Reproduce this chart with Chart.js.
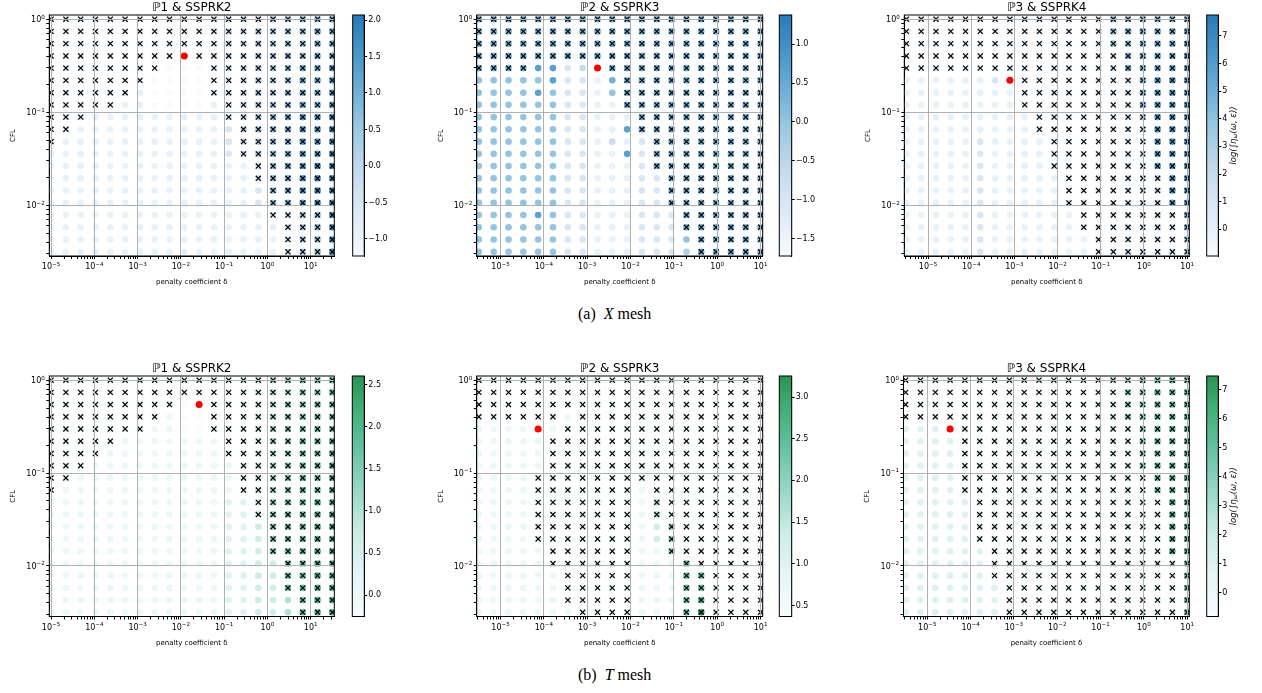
<!DOCTYPE html>
<html>
<head>
<meta charset="utf-8">
<script src="https://cdn.jsdelivr.net/npm/chart.js@4.4.0/dist/chart.umd.min.js"></script>
<style>
    body { margin: 0; background: #fff; width: 1262px; height: 693px; position: relative; overflow: hidden; }
    canvas { position: absolute; }
    .caption { position: absolute; font-family: "Liberation Serif", "Times New Roman", serif; font-size: 16px; color: #000; white-space: pre; }
</style>
</head>
<body>
<div class="caption" style="left:578px; top:305px;">(a)  <i>X</i> mesh</div>
<div class="caption" style="left:578px; top:666px;">(b)  <i>T</i> mesh</div>
<script>
// grid of the sweep: penalty coefficient δ (columns) and CFL (rows, top to bottom)
const deltaP1 = [1.00e-5, 2.20e-5, 4.83e-5, 1.06e-4, 2.34e-4, 5.14e-4, 1.13e-3, 2.48e-3, 5.46e-3, 1.20e-2,
                 2.64e-2, 5.80e-2, 0.127, 0.280, 0.616, 1.35, 2.98, 6.55, 14.4, 31.6];
const deltaP23 = [3.16e-6, 6.95e-6, 1.53e-5, 3.36e-5, 7.38e-5, 1.62e-4, 3.57e-4, 7.85e-4, 1.73e-3, 3.79e-3,
                  8.34e-3, 1.83e-2, 4.03e-2, 8.86e-2, 0.195, 0.428, 0.941, 2.07, 4.55, 10.0];
const cflValues = [1.0, 0.739, 0.546, 0.403, 0.298, 0.220, 0.162, 0.120, 0.0886, 0.0655,
                   0.0483, 0.0357, 0.0264, 0.0195, 0.0144, 0.0106, 0.00785, 0.00580, 0.00428, 0.00316];

// colour level of each point (0 = bottom of bar, 9 = top)
// and unstable runs ("x"), one string per CFL row
const levelsXP1 = [
    "11111111111223344556", "11111111111233445566", "11111111111233445566", "11111111111233445566",
    "11111110000123445667", "11111110000123445667", "11111110000123445667", "11111110000123445667",
    "11111111111123456778", "11111111111123456778", "11111111111123456778", "11111111111123456778",
    "11111111111111256788", "11111111111111256788", "11111111111111256788", "11111111111111256788",
    "11111111111111112458", "11111111111111112458", "11111111111111112458", "11111111111111112458"];
const crossXP1 = [
    "xxxxxxxxxxxxxxxxxxxx", "xxxxxxxxxxxxxxxxxxxx", "xxxxxxxxxxxxxxxxxxxx", "xxxxxxxxx.xxxxxxxxxx",
    "xxxxxxxx...xxxxxxxxx", "xxxxxxx....xxxxxxxxx", "xxxxxx.....xxxxxxxxx", "xxxxx.......xxxxxxxx",
    "xxx.........xxxxxxxx", "xx...........xxxxxxx", "x............xxxxxxx", ".............xxxxxxx",
    "..............xxxxxx", "..............xxxxxx", "...............xxxxx", "...............xxxxx",
    "...............xxxxx", "................xxxx", "................xxxx", "................xxxx"];

const levelsXP2 = [
    "66666666666666666666", "66666666666666666666", "66666666666666666666", "66666666666666666666",
    "66667723166666666666", "55555722166666666666", "55557522156666666666", "55555522116666666666",
    "55555522111666666666", "55555522117666666666", "55555522131266666666", "55555522117266666666",
    "55555522111266666666", "55555522111226666666", "55555522111226666666", "55555522111226666666",
    "55557522111222666666", "55555522111222666666", "55555522111222566666", "55555522111222466666"];
const crossXP2 = [
    "xxxxxxxxxxxxxxxxxxxx", "xxxxxxxxxxxxxxxxxxxx", "xxxxxxxxxxxxxxxxxxxx", "xxxxxxxxxxxxxxxxxxxx",
    "xxxx.....xxxxxxxxxxx", "..........xxxxxxxxxx", "..........xxxxxxxxxx", "..........xxxxxxxxxx",
    "...........xxxxxxxxx", "...........xxxxxxxxx", "............xxxxxxxx", "............xxxxxxxx",
    "............xxxxxxxx", ".............xxxxxxx", ".............xxxxxxx", ".............xxxxxxx",
    "..............xxxxxx", "..............xxxxxx", "...............xxxxx", "...............xxxxx"];

const levelsXP3 = [
    "11111111111111545556", "11111111111111566667", "11111111111111556667", "11111111111111256667",
    "11111111111111266667", "11111121111111126777", "11111111111111126777", "11111111111111126777",
    "11111111111111124777", "11111111111111122777", "11111211111111122777", "11111211111111122777",
    "11111211111111122777", "11111211111111122377", "11111211111111122377", "11111211111111122377",
    "11111211111111122326", "11111211111111122326", "11111211111111122224", "11111211111111122224"];
const crossXP3 = [
    "xxxxxxxxxxxxxxxxxxxx", "xxxxxxxxxxxxxxxxxxxx", "xxxxxxxxxxxxxxxxxxxx", "xxxxxxxxxxxxxxxxxxxx",
    "xxxxxxxxxxxxxxxxxxxx", "........xxxxxxxxxxxx", "........xxxxxxxxxxxx", "........xxxxxxxxxxxx",
    ".........xxxxxxxxxxx", ".........xxxxxxxxxxx", "..........xxxxxxxxxx", "..........xxxxxxxxxx",
    "..........xxxxxxxxxx", "...........xxxxxxxxx", "...........xxxxxxxxx", "...........xxxxxxxxx",
    "............xxxxxxxx", "............xxxxxxxx", ".............xxxxxxx", ".............xxxxxxx"];

const levelsTP1 = [
    "11111111111112344556", "11111111111112344556", "11111111100112345566", "11111111100112345566",
    "11111111100112345566", "11111111111112345667", "11111111111112345667", "11111111111112345667",
    "11111111111112345667", "11111111111112345667", "11111111111122356677", "11111111111122356677",
    "11111111111122356677", "11111111111122356677", "11111111111122356677", "11111111111122336677",
    "11111111111122336677", "11111111111122336677", "11111111111122334677", "11111111111122334677"];
const crossTP1 = [
    "xxxxxxxxxxxxxxxxxxxx", "xxxxxxxxxxxxxxxxxxxx", "xxxxxxxxx..xxxxxxxxx", "xxxxxxxx...xxxxxxxxx",
    "xxxxxxx....xxxxxxxxx", "xxxxx.......xxxxxxxx", "xxxx........xxxxxxxx", "xxx..........xxxxxxx",
    "xx...........xxxxxxx", "x............xxxxxxx", "..............xxxxxx", "..............xxxxxx",
    "...............xxxxx", "...............xxxxx", "...............xxxxx", "................xxxx",
    "................xxxx", "................xxxx", ".................xxx", ".................xxx"];

const levelsTP2 = [
    "11111111111111111111", "11111111111111111111", "11111111111111111111", "11111111111111111111",
    "11111111111111111111", "11111111111111111111", "11111111111111111111", "11111111111111111111",
    "11111111111111111111", "11111111111111111111", "11111111111141111111", "11111111111141111111",
    "11111111111135111111", "11111111111135111111", "11111111111115111111", "11111111111111611111",
    "11111111111111661111", "11111111111111661111", "11111111111111671111", "11111111111111691111"];
const crossTP2 = [
    "xxxxxxxxxxxxxxxxxxxx", "xxxxxxxxxxxxxxxxxxxx", "xxxxxxxxxxxxxxxxxxxx", "xxxxxx.xxxxxxxxxxxxx",
    "......xxxxxxxxxxxxxx", ".....xxxxxxxxxxxxxxx", ".....xxxxxxxxxxxxxxx", ".....xxxxxxxxxxxxxxx",
    "....xxxxxxxxxxxxxxxx", "....xxxxxxx.xxxxxxxx", "....xxxxxxx.xxxxxxxx", "....xxxxxxx.xxxxxxxx",
    "....xxxxxxx..xxxxxxx", "....xxxxxxx..xxxxxxx", ".....xxxxxx..xxxxxxx", ".....xxxxxx...xxxxxx",
    "......xxxxx...xxxxxx", "......xxxxx...xxxxxx", "......xxxxx...xxxxxx", ".......xxxx...xxxxxx"];

const levelsTP3 = [
    "11111111111111335566", "11111111111111255667", "11111111111111255667", "11111111111111255667",
    "22222221111111225667", "22222221111111225667", "22222221111111225667", "22222221111111225667",
    "22222221111111122667", "22222221111111122667", "22222221111111122277", "22222221111111122277",
    "22222221111111122277", "22222221111111122277", "22222221111111122277", "22222221111111122226",
    "22222221111111122226", "22222221111111122226", "22222221111111122226", "22222221111111122226"];
const crossTP3 = [
    "xxxxxxxxxxxxxxxxxxxx", "xxxxxxxxxxxxxxxxxxxx", "xxxxxxxxxxxxxxxxxxxx", "xxxxxxxxxxxxxxxxxxxx",
    "....xxxxxxxxxxxxxxxx", "....xxxxxxxxxxxxxxxx", "....xxxxxxxxxxxxxxxx", "....xxxxxxxxxxxxxxxx",
    "....xxxxxxxxxxxxxxxx", "....xxxxxxxxxxxxxxxx", ".....xxxxxxxxxxxxxxx", ".....xxxxxxxxxxxxxxx",
    ".....xxxxxxxxxxxxxxx", ".....xxxxxxxxxxxxxxx", "......xxxxxxxxxxxxxx", "......xxxxxxxxxxxxxx",
    "......xxxxxxxxxxxxxx", ".......xxxxxxxxxxxxx", ".......xxxxxxxxxxxxx", ".......xxxxxxxxxxxxx"];

// chosen (δ, CFL) pair, red dot
const bestXP1 = [1.20e-2, 0.403];
const bestXP2 = [1.73e-3, 0.298];
const bestXP3 = [7.85e-4, 0.220];
const bestTP1 = [2.64e-2, 0.546];
const bestTP2 = [7.38e-5, 0.298];
const bestTP3 = [3.36e-5, 0.298];

// colorbar ranges and ticks
const rangeXP1 = [-1.234, 2.069];
const rangeXP2 = [-1.724, 1.375];
const rangeXP3 = [-0.97, 7.76];
const rangeTP1 = [-0.253, 2.60];
const rangeTP2 = [0.368, 3.252];
const rangeTP3 = [-0.82, 7.47];
const cbTicksXP1 = [-1.0, -0.5, 0.0, 0.5, 1.0, 1.5, 2.0];
const cbTicksXP2 = [-1.5, -1.0, -0.5, 0.0, 0.5, 1.0];
const cbTicksXP3 = [0, 1, 2, 3, 4, 5, 6, 7];
const cbTicksTP1 = [0.0, 0.5, 1.0, 1.5, 2.0, 2.5];
const cbTicksTP2 = [0.5, 1.0, 1.5, 2.0, 2.5, 3.0];
const cbTicksTP3 = [0, 1, 2, 3, 4, 5, 6, 7];

const xlimP1 = [9.1e-6, 35.1];
const xlimP23 = [2.82e-6, 11.2];
const cflLim = [0.00285, 1.109];

const BLUES = ['#f7fbff', '#deebf7', '#c6dbef', '#9ecae1', '#6baed6', '#4292c6', '#2171b5', '#08519c', '#08306b'];
const BUGN = ['#f7fcfd', '#e5f5f9', '#ccece6', '#99d8c9', '#66c2a4', '#41ae76', '#238b45', '#006d2c', '#00441b'];
const CMAP_TOP = 0.72;
const FONT = '"DejaVu Sans", sans-serif';

Chart.defaults.font.family = FONT;
Chart.defaults.color = '#000';

function hexRgb(h) {
    return [parseInt(h.slice(1, 3), 16), parseInt(h.slice(3, 5), 16), parseInt(h.slice(5, 7), 16)];
}

function cmap(stops, t) {
    t = Math.max(0, Math.min(1, t)) * CMAP_TOP;
    const p = t * (stops.length - 1);
    const i = Math.min(Math.floor(p), stops.length - 2);
    const f = p - i;
    const a = hexRgb(stops[i]), b = hexRgb(stops[i + 1]);
    return `rgb(${a.map((v, k) => Math.round(v + (b[k] - v) * f)).join(',')})`;
}

function isDecade(v) {
    const e = Math.log10(v);
    return Math.abs(e - Math.round(e)) < 1e-6;
}

function logTicks(min, max) {
    const out = [];
    for (let e = Math.floor(Math.log10(min)); e <= Math.ceil(Math.log10(max)); e++) {
        for (let m = 1; m < 10; m++) {
            const v = m * Math.pow(10, e);
            if (v >= min && v <= max) out.push(v);
        }
    }
    return out;
}

function placeCanvas(left, top, w, h) {
    const c = document.createElement('canvas');
    c.width = w;
    c.height = h;
    c.style.left = left + 'px';
    c.style.top = top + 'px';
    c.style.width = w + 'px';
    c.style.height = h + 'px';
    document.body.appendChild(c);
    return c;
}

function logAxis(lim, fitFn, title, titlePad) {
    return {
        type: 'logarithmic',
        min: lim[0],
        max: lim[1],
        afterBuildTicks: s => { s.ticks = logTicks(lim[0], lim[1]).map(v => ({ value: v })); },
        afterFit: s => { fitFn(s); s.paddingLeft = s.paddingRight = s.paddingTop = s.paddingBottom = 0; },
        ticks: { display: false, autoSkip: false },
        grid: {
            z: 1,
            color: c => (c.tick && isDecade(c.tick.value)) ? '#b0b0b0' : 'rgba(0,0,0,0)',
            tickColor: '#000',
            tickLength: 3,
            lineWidth: 1
        },
        border: { display: true, color: '#000', width: 1 },
        title: { display: true, text: title, font: { size: 7 }, color: '#000', padding: titlePad }
    };
}

// decade labels as 10 with a raised exponent, placed through the scale
function drawPowLabels(chart) {
    const { ctx, chartArea: a } = chart;
    ['x', 'y'].forEach(id => {
        const s = chart.scales[id];
        s.ticks.forEach(t => {
            if (!isDecade(t.value)) return;
            const e = String(Math.round(Math.log10(t.value))).replace('-', '−');
            ctx.font = `8px ${FONT}`;
            const w1 = ctx.measureText('10').width;
            ctx.font = `5.6px ${FONT}`;
            const w2 = ctx.measureText(e).width;
            const p = s.getPixelForValue(t.value);
            let x0, base;
            if (id === 'x') {
                x0 = p - (w1 + w2) / 2;
                base = a.bottom + 13.3;
            } else {
                x0 = a.left - 4.5 - (w1 + w2);
                base = p + 3;
            }
            ctx.fillStyle = '#000';
            ctx.textAlign = 'left';
            ctx.textBaseline = 'alphabetic';
            ctx.font = `8px ${FONT}`;
            ctx.fillText('10', x0, base);
            ctx.font = `5.6px ${FONT}`;
            ctx.fillText(e, x0 + w1, base - 3.6);
        });
    });
}

const panelDecor = {
    id: 'panelDecor',
    afterDraw(chart) {
        const { ctx, chartArea: a } = chart;
        ctx.save();
        ctx.strokeStyle = '#000';
        ctx.lineWidth = 1;
        ctx.strokeRect(a.left, a.top, a.right - a.left, a.bottom - a.top);
        if (chart.$title) {
            ctx.fillStyle = '#000';
            ctx.font = `12px ${FONT}`;
            ctx.textAlign = 'center';
            ctx.textBaseline = 'alphabetic';
            ctx.fillText(chart.$title, (a.left + a.right) / 2, a.top - 4.5);
            drawPowLabels(chart);
        }
        if (chart.$cbLabel) {
            ctx.translate(a.right + 15, (a.top + a.bottom) / 2);
            ctx.rotate(-Math.PI / 2);
            ctx.fillStyle = '#000';
            ctx.textBaseline = 'middle';
            ctx.textAlign = 'left';
            const parts = [['log(∫η', 8.5, 0], ['ω', 6, 2], ['(ω, ε))', 8.5, 0]];
            let total = 0;
            parts.forEach(p => { ctx.font = `italic ${p[1]}px ${FONT}`; total += ctx.measureText(p[0]).width; });
            let x = -total / 2;
            parts.forEach(p => {
                ctx.font = `italic ${p[1]}px ${FONT}`;
                ctx.fillText(p[0], x, p[2]);
                x += ctx.measureText(p[0]).width;
            });
        }
        ctx.restore();
    }
};

function makePanel(cfg) {
    const [bl, bt, br, bb] = cfg.box;
    const cl = Math.floor(bl) - 49, ct = Math.floor(bt) - 16;
    const w = Math.ceil(br) - cl + 6, h = Math.ceil(bb) - ct + 36;
    const yW = bl - cl, padTop = bt - ct, padRight = cl + w - br, xH = ct + h - bb;
    const canvas = placeCanvas(cl, ct, w, h);

    const [vmin, vmax] = cfg.range;
    const dots = [], dotColors = [], crosses = [];
    cfg.levels.forEach((row, r) => {
        for (let c = 0; c < 20; c++) {
            const value = vmin + (+row[c]) / 9 * (vmax - vmin);
            dots.push({ x: cfg.delta[c], y: cflValues[r] });
            dotColors.push(cmap(cfg.cmap, (value - vmin) / (vmax - vmin)));
            if (cfg.cross[r][c] === 'x') crosses.push({ x: cfg.delta[c], y: cflValues[r] });
        }
    });

    const chart = new Chart(canvas, {
        type: 'scatter',
        data: {
            datasets: [
                { data: [{ x: cfg.best[0], y: cfg.best[1] }], pointRadius: 3.5, pointBackgroundColor: '#ff0000', pointBorderWidth: 0, order: 0 },
                { data: crosses, pointStyle: 'crossRot', pointRadius: 3.6, pointBorderColor: '#000', pointBorderWidth: 1.2, order: 1 },
                { data: dots, pointRadius: 3.3, pointBackgroundColor: dotColors, pointBorderWidth: 0, order: 2 }
            ]
        },
        options: {
            responsive: false,
            animation: false,
            devicePixelRatio: 1,
            events: [],
            layout: { padding: { top: padTop, right: padRight, left: 0, bottom: 0 } },
            plugins: { legend: { display: false }, tooltip: { enabled: false } },
            scales: {
                x: logAxis(cfg.xlim, s => { s.height = xH; }, 'penalty coefficient δ', { top: 0, bottom: 6 }),
                y: logAxis(cflLim, s => { s.width = yW; }, 'CFL', { top: yW - 36 - 4.2, bottom: 0 })
            }
        },
        plugins: [panelDecor]
    });
    chart.$title = cfg.title;
    chart.update();
    makeColorbar(cfg, ct, h, padTop, xH);
}

function makeColorbar(cfg, ct, h, padTop, xH) {
    const [cbl, cbr] = cfg.cb;
    const cl = Math.floor(cbl) - 8;
    const w = 54;
    const padLeft = cbl - cl;
    const axW = w - (cbr - cl);
    const canvas = placeCanvas(cl, ct, w, h);
    const [vmin, vmax] = cfg.range;
    const chart = new Chart(canvas, {
        type: 'bar',
        data: {
            labels: [''],
            datasets: [{
                data: [[vmin, vmax]],
                backgroundColor: c => {
                    const a = c.chart.chartArea;
                    if (!a) return null;
                    const g = c.chart.ctx.createLinearGradient(0, a.bottom, 0, a.top);
                    for (let i = 0; i <= 24; i++) g.addColorStop(i / 24, cmap(cfg.cmap, i / 24));
                    return g;
                },
                barPercentage: 1,
                categoryPercentage: 1,
                borderWidth: 0
            }]
        },
        options: {
            responsive: false,
            animation: false,
            devicePixelRatio: 1,
            events: [],
            layout: { padding: { left: padLeft, top: padTop, bottom: xH, right: 0 } },
            plugins: { legend: { display: false }, tooltip: { enabled: false } },
            scales: {
                x: { display: false },
                y: {
                    position: 'right',
                    min: vmin,
                    max: vmax,
                    afterBuildTicks: s => { s.ticks = cfg.cbTicks.map(v => ({ value: v })); },
                    afterFit: s => { s.width = axW; s.paddingTop = s.paddingBottom = 0; },
                    ticks: {
                        autoSkip: false, padding: 1, font: { size: 8 }, color: '#000',
                        callback: v => v.toFixed(cfg.dec).replace('-', '−')
                    },
                    grid: { drawOnChartArea: false, drawTicks: true, tickLength: 3, tickColor: '#000' },
                    border: { display: true, color: '#000', width: 1 }
                }
            }
        },
        plugins: [panelDecor]
    });
    chart.$cbLabel = cfg.cbLabel;
    chart.update();
}

const panels = [
    { title: 'ℙ1 & SSPRK2', delta: deltaP1, xlim: xlimP1, levels: levelsXP1, cross: crossXP1, best: bestXP1,
      range: rangeXP1, cbTicks: cbTicksXP1, dec: 1, cmap: BLUES, box: [49.3, 15, 334.3, 256], cb: [352.7, 364.2] },
    { title: 'ℙ2 & SSPRK3', delta: deltaP23, xlim: xlimP23, levels: levelsXP2, cross: crossXP2, best: bestXP2,
      range: rangeXP2, cbTicks: cbTicksXP2, dec: 1, cmap: BLUES, box: [476.7, 15, 762.7, 256], cb: [779.3, 791.7] },
    { title: 'ℙ3 & SSPRK4', delta: deltaP23, xlim: xlimP23, levels: levelsXP3, cross: crossXP3, best: bestXP3,
      range: rangeXP3, cbTicks: cbTicksXP3, dec: 0, cmap: BLUES, box: [904.3, 15, 1189.3, 256], cb: [1206.7, 1218.3], cbLabel: true },
    { title: 'ℙ1 & SSPRK2', delta: deltaP1, xlim: xlimP1, levels: levelsTP1, cross: crossTP1, best: bestTP1,
      range: rangeTP1, cbTicks: cbTicksTP1, dec: 1, cmap: BUGN, box: [49.3, 376, 334.3, 616.5], cb: [352.3, 364.3] },
    { title: 'ℙ2 & SSPRK3', delta: deltaP23, xlim: xlimP23, levels: levelsTP2, cross: crossTP2, best: bestTP2,
      range: rangeTP2, cbTicks: cbTicksTP2, dec: 1, cmap: BUGN, box: [476.7, 376, 762.7, 616.5], cb: [779.3, 791.7] },
    { title: 'ℙ3 & SSPRK4', delta: deltaP23, xlim: xlimP23, levels: levelsTP3, cross: crossTP3, best: bestTP3,
      range: rangeTP3, cbTicks: cbTicksTP3, dec: 0, cmap: BUGN, box: [903.5, 376, 1189.3, 616.5], cb: [1206.7, 1218.3], cbLabel: true }
];

panels.forEach(makePanel);
</script>
</body>
</html>
